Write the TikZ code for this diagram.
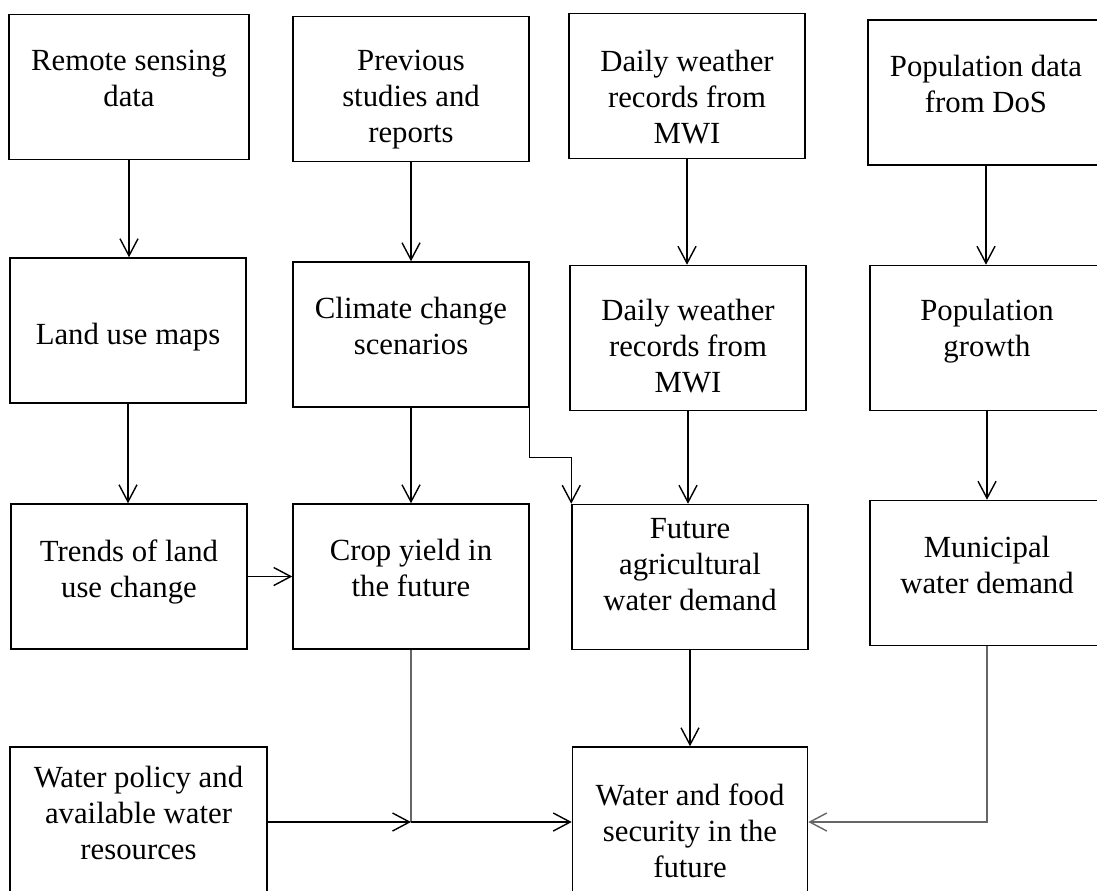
\documentclass[tikz,border=0pt]{standalone}
\usepackage{fontspec}
\setmainfont{Liberation Serif}
\usetikzlibrary{arrows.meta}

\begin{document}
\begin{tikzpicture}[x=0.02cm, y=-0.02cm,
    box/.style={draw, line width=0.9pt, minimum width=4.72cm, minimum height=2.9cm, inner sep=0pt},
    lbl/.style={anchor=north, align=center, inner sep=0pt, font=\fontsize{17.5}{20.5}\selectfont},
    arr/.style={-{Straight Barb[length=0.34cm, width=0.36cm]}, line width=0.8pt},
    dim/.style={draw=black!60}]
    \useasboundingbox (0,0) rectangle (1097,890);
    \clip (0,0) rectangle (1097,890);

    % boxes
    \node[box, minimum width=4.8cm] (a1) at (129,87) {};
    \node[box] (b1) at (411,89) {};
    \node[box] (c1) at (687,86) {};
    \node[box, minimum width=5.2cm] (d1) at (998,92.5) {};
    \node[box] (a2) at (128,330.5) {};
    \node[box] (b2) at (411,334.5) {};
    \node[box] (c2) at (688,338) {};
    \node[box, minimum width=5.2cm] (d2) at (1000,338) {};
    \node[box] (a3) at (129,576.5) {};
    \node[box] (b3) at (411,576.5) {};
    \node[box] (c3) at (690,577) {};
    \node[box, minimum width=5.2cm] (d3) at (1000,573) {};
    \node[box, minimum width=5.14cm, minimum height=3cm] (a4) at (138.5,822) {};
    \node[box, minimum width=4.7cm, minimum height=3cm] (c4) at (690,822) {};

    % texts
    \node[lbl] (a1t) at (129,50) {Remote sensing\\data};
    \node[lbl] (b1t) at (411,50) {Previous\\studies and\\reports};
    \node[lbl] (c1t) at (687,50) {Daily weather\\records from\\MWI};
    \node[lbl] (d1t) at (986,55) {Population data\\from DoS};
    \node[lbl] (a2t) at (128,323) {Land use maps};
    \node[lbl] (b2t) at (411,297) {Climate change\\scenarios};
    \node[lbl] (c2t) at (688,299) {Daily weather\\records from\\MWI};
    \node[lbl] (d2t) at (987,299) {Population\\growth};
    \node[lbl] (a3t) at (129,539) {Trends of land\\use change};
    \node[lbl] (b3t) at (411,539) {Crop yield in\\the future};
    \node[lbl] (c3t) at (690,518) {Future\\agricultural\\water demand};
    \node[lbl] (d3t) at (987,536) {Municipal\\water demand};
    \node[lbl] (a4t) at (138.5,766) {Water policy and\\available water\\resources};
    \node[lbl] (c4t) at (690,783) {Water and food\\security in the\\future};

    % arrows
    \draw[arr] (a1.south) -- (a1.south |- a2.north);
    \draw[arr] (b1.south) -- (b1.south |- b2.north);
    \draw[arr] (c1.south) -- (c1.south |- c2.north);
    \draw[arr] (d1t.south |- d1.south) -- (d1t.south |- d2.north);
    \draw[arr] (a2.south) -- (a2.south |- a3.north);
    \draw[arr] (b2.south) -- (b2.south |- b3.north);
    \draw[arr] (c2.south) -- (c2.south |- c3.north);
    \draw[arr] (d2t.south |- d2.south) -- (d2t.south |- d3.north);
    \draw[arr] (b2.south east) -- ++(0,50) -| (c3.north west);
    \draw[arr] (a3) -- (b3);
    \draw[arr] (c3.south) -- (c3.south |- c4.north);
    \coordinate (join) at (b3.south |- a4.east);
    \draw[dim, line width=0.8pt] (b3.south) -- (join);
    \draw[arr] (a4.east) -- (join);
    \draw[arr] (join) -- (join -| c4.west);
    \draw[arr, dim] (d3t.south |- d3.south) |- (c4.east);
\end{tikzpicture}
\end{document}
